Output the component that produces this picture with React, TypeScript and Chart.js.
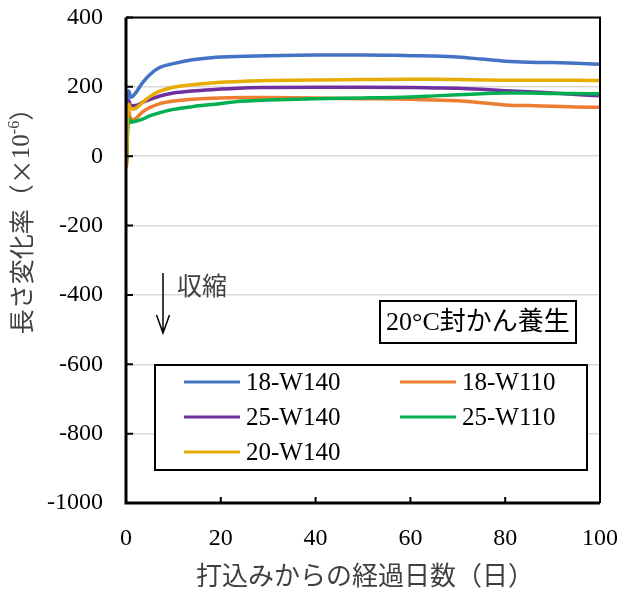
import React, { useEffect, useRef } from "react";
import { Chart, registerables } from "chart.js";

Chart.register(...registerables);

const days = [0, 0.1, 0.3, 0.6, 1, 2, 3.5, 5, 7, 10, 14, 18, 25, 30, 40, 50, 60, 65, 70, 75, 80, 85, 90, 95, 100];
const s18W140 = [0, -10, 150, 188, 170, 182, 212, 235, 255, 267, 278, 284, 288, 290, 292, 292, 290, 289, 286, 280, 274, 271, 270, 268, 265];
const s18W110 = [0, -29, 80, 130, 105, 108, 128, 140, 151, 159, 164, 167, 169, 169, 168, 166, 164, 162, 160, 154, 148, 146, 144, 142, 141];
const s25W140 = [0, -15, 120, 160, 145, 146, 155, 163, 173, 182, 188, 192, 197, 198, 199, 199, 198, 197, 196, 193, 189, 186, 182, 178, 174];
const s25W110 = [0, -20, 60, 110, 98, 101, 107, 116, 125, 135, 143, 149, 159, 162, 166, 168, 171, 174, 177, 180, 182, 182, 181, 181, 180];
const s20W140 = [0, -25, 100, 150, 136, 138, 155, 172, 187, 199, 206, 211, 216, 218, 220, 221, 222, 222, 221, 220, 219, 219, 219, 219, 218];

const seriesLabels = ["18-W140", "18-W110", "25-W140", "25-W110", "20-W140"];
const seriesColors = ["#4472C4", "#ED7D31", "#7030A0", "#00B050", "#E6AC00"];
const seriesValues = [s18W140, s18W110, s25W140, s25W110, s20W140];
const seriesOrder = [5, 4, 3, 2, 1];

const xTicks = [0, 20, 40, 60, 80, 100];
const yTicks = [-1000, -800, -600, -400, -200, 0, 200, 400];

const xTitle = "打込みからの経過日数（日）";
const yTitleMain = "長さ変化率（×";
const yTitleNum = "10";
const yTitleSup = "-6";
const yTitleEnd = "）";
const noteText = "20°C封かん養生";
const shrinkText = "収縮";

const SERIF = "'Liberation Serif', 'Noto Sans CJK JP'";
const JP = "'Noto Sans CJK JP'";

const decorPlugin = {
  id: "decor",
  afterDraw(chart: any) {
    const ctx = chart.ctx as CanvasRenderingContext2D;
    const ca = chart.chartArea;
    const xs = chart.scales.x;
    const ys = chart.scales.y;
    ctx.save();

    // plot frame (top/right)
    ctx.strokeStyle = "#000";
    ctx.lineWidth = 2;
    ctx.beginPath();
    ctx.moveTo(ca.left, ca.top);
    ctx.lineTo(ca.right, ca.top);
    ctx.lineTo(ca.right, ca.bottom);
    ctx.stroke();

    // axes
    ctx.lineWidth = 3;
    ctx.beginPath();
    ctx.moveTo(ca.left, ca.top);
    ctx.lineTo(ca.left, ca.bottom + 1.5);
    ctx.moveTo(ca.left - 1.5, ca.bottom);
    ctx.lineTo(ca.right, ca.bottom);
    ctx.stroke();

    // inward ticks
    ctx.lineWidth = 2;
    ctx.beginPath();
    yTicks.forEach((v) => {
      const y = ys.getPixelForValue(v);
      ctx.moveTo(ca.left, y);
      ctx.lineTo(ca.left + 7, y);
    });
    xTicks.forEach((v) => {
      const x = xs.getPixelForValue(v);
      ctx.moveTo(x, ca.bottom);
      ctx.lineTo(x, ca.bottom - 6);
    });
    ctx.stroke();

    // y title (rotated, with superscript)
    ctx.fillStyle = "#404040";
    ctx.textBaseline = "middle";
    ctx.textAlign = "left";
    const fMain = `25px ${JP}`;
    const fNum = `25px ${SERIF}`;
    const fSup = `16px ${SERIF}`;
    ctx.font = fMain;
    const w1 = ctx.measureText(yTitleMain).width;
    const w4 = ctx.measureText(yTitleEnd).width;
    ctx.font = fNum;
    const w2 = ctx.measureText(yTitleNum).width;
    ctx.font = fSup;
    const w3 = ctx.measureText(yTitleSup).width;
    const total = w1 + w2 + w3 + w4;
    ctx.translate(21, 215);
    ctx.rotate(-Math.PI / 2);
    let px = -total / 2;
    ctx.font = fMain;
    ctx.fillText(yTitleMain, px, 0);
    px += w1;
    ctx.font = fNum;
    ctx.fillText(yTitleNum, px, 1);
    px += w2;
    ctx.font = fSup;
    ctx.fillText(yTitleSup, px, -6);
    px += w3;
    ctx.font = fMain;
    ctx.fillText(yTitleEnd, px, 0);
    ctx.setTransform(1, 0, 0, 1, 0, 0);

    // x title
    ctx.font = `26px ${JP}`;
    ctx.textAlign = "center";
    ctx.fillText(xTitle, (ca.left + ca.right) / 2 + 2, 575);

    // shrink arrow
    ctx.strokeStyle = "#000";
    ctx.lineWidth = 1.5;
    ctx.beginPath();
    ctx.moveTo(163, 273);
    ctx.lineTo(163, 333);
    ctx.moveTo(156.5, 315);
    ctx.lineTo(163, 333);
    ctx.lineTo(169.5, 315);
    ctx.stroke();
    ctx.fillStyle = "#404040";
    ctx.font = `25px ${JP}`;
    ctx.textAlign = "left";
    ctx.textBaseline = "middle";
    ctx.fillText(shrinkText, 177, 285);

    // note box
    ctx.fillStyle = "#fff";
    ctx.fillRect(380, 301, 196, 42);
    ctx.strokeStyle = "#000";
    ctx.lineWidth = 2;
    ctx.strokeRect(380, 301, 196, 42);
    ctx.fillStyle = "#000";
    ctx.font = `26px ${SERIF}`;
    ctx.fillText(noteText, 386, 323);

    // legend
    ctx.fillStyle = "#fff";
    ctx.fillRect(155, 365, 432, 105);
    ctx.strokeRect(155, 365, 432, 105);
    const ds = chart.data.datasets;
    ds.forEach((d: any, i: number) => {
      const col = i % 2;
      const row = Math.floor(i / 2);
      const lx = col === 0 ? 184 : 400;
      const ly = 382 + row * 35;
      ctx.strokeStyle = d.borderColor;
      ctx.lineWidth = 3;
      ctx.beginPath();
      ctx.moveTo(lx, ly);
      ctx.lineTo(lx + 56, ly);
      ctx.stroke();
      ctx.fillStyle = "#000";
      ctx.font = `25px ${SERIF}`;
      ctx.textAlign = "left";
      ctx.textBaseline = "middle";
      ctx.fillText(d.label, lx + 62, ly + 1);
    });

    ctx.restore();
  },
};

function zeroPad(s: any) {
  s.paddingTop = 0;
  s.paddingBottom = 0;
  s.paddingLeft = 0;
  s.paddingRight = 0;
}

export default function App() {
  const ref = useRef<HTMLCanvasElement | null>(null);
  useEffect(() => {
    if (!ref.current) return;
    const chart = new Chart(ref.current, {
      type: "line",
      data: {
        datasets: seriesLabels.map((label, i) => ({
          label,
          data: days.map((d, j) => ({ x: d, y: seriesValues[i][j] })),
          borderColor: seriesColors[i],
          backgroundColor: seriesColors[i],
          borderWidth: 3.5,
          pointRadius: 0,
          cubicInterpolationMode: "monotone" as const,
          fill: false,
          order: seriesOrder[i],
        })),
      },
      plugins: [decorPlugin],
      options: {
        responsive: false,
        animation: false,
        devicePixelRatio: 1,
        layout: { padding: { top: 17.5, right: 19, left: 0, bottom: 0 } },
        plugins: { legend: { display: false }, tooltip: { enabled: false } },
        scales: {
          x: {
            type: "linear",
            min: 0,
            max: 100,
            afterFit: (s: any) => {
              s.height = 87;
              zeroPad(s);
            },
            afterBuildTicks: (s: any) => {
              s.ticks = xTicks.map((v) => ({ value: v }));
            },
            grid: { display: false, drawTicks: false },
            border: { display: false },
            ticks: {
              padding: 21,
              color: "#000",
              font: { family: SERIF, size: 24 },
              maxRotation: 0,
              callback: (v: any) => String(v),
            },
            title: { display: false },
          },
          y: {
            type: "linear",
            min: -1000,
            max: 400,
            afterFit: (s: any) => {
              s.width = 126;
              zeroPad(s);
            },
            afterBuildTicks: (s: any) => {
              s.ticks = yTicks.map((v) => ({ value: v }));
            },
            grid: { color: "#D9D9D9", lineWidth: 1.5, drawTicks: false },
            border: { display: false },
            ticks: {
              padding: 23,
              color: "#000",
              font: { family: SERIF, size: 24 },
              callback: (v: any) => String(v),
            },
          },
        },
      },
    });
    return () => chart.destroy();
  }, []);
  return (
    <div style={{ position: "absolute", left: 0, top: 0, width: 619, height: 590, background: "#fff" }}>
      <canvas ref={ref} width={619} height={590} />
    </div>
  );
}
